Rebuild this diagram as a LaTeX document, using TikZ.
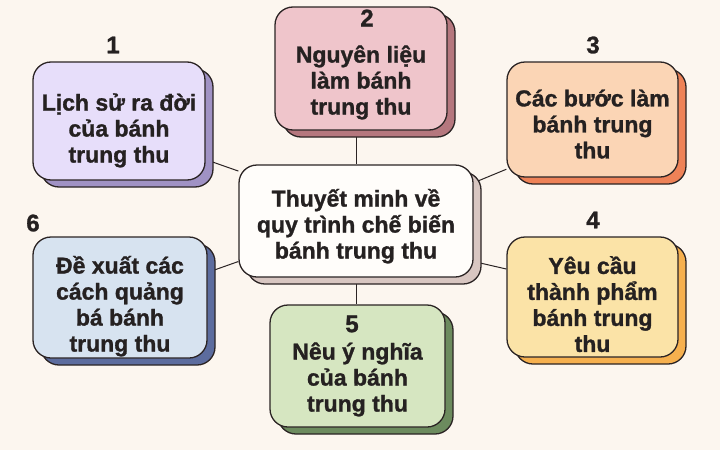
\documentclass[tikz,border=0pt]{standalone}
\usepackage{fontspec}
\setmainfont[BoldFeatures={FakeBold=1.2}]{Liberation Sans}
\usetikzlibrary{shadows,backgrounds}
\definecolor{cream}{HTML}{FCF6EF}
\definecolor{edge}{HTML}{2B2424}
\definecolor{ink}{HTML}{252121}
\definecolor{lilac}{HTML}{E7DEFA}
\definecolor{lilacdark}{HTML}{A092C4}
\definecolor{rose}{HTML}{EFC5CB}
\definecolor{rosedark}{HTML}{B5777E}
\definecolor{peach}{HTML}{FBD5B5}
\definecolor{peachdark}{HTML}{EE8257}
\definecolor{butter}{HTML}{FBE3A7}
\definecolor{butterdark}{HTML}{F6B04E}
\definecolor{sage}{HTML}{D6E6C1}
\definecolor{sagedark}{HTML}{6C8B5E}
\definecolor{sky}{HTML}{D7E3F0}
\definecolor{skydark}{HTML}{5C6C9E}
\definecolor{paper}{HTML}{FFFDFA}
\definecolor{paperdark}{HTML}{D8C6C1}
\newcommand{\lift}[1]{\rule{0pt}{#1pt}}
\begin{document}
\begin{tikzpicture}[x=1pt,y=-1pt,
  box/.style 2 args={draw=edge,line width=1.3pt,rounded corners=18pt,fill=#1,
    copy shadow={fill=#2,draw=edge,line width=1.3pt,shadow xshift=8pt,shadow yshift=-7pt},
    text=ink,font=\fontsize{23}{26}\selectfont\bfseries,align=center,inner sep=0pt},
  num/.style={text=ink,font=\fontsize{24}{28}\selectfont\bfseries,inner sep=0pt},
  link/.style={draw=edge,line width=1pt}]
\useasboundingbox (0,0) rectangle (720,450);
\node [box={paper}{paperdark},minimum width=234pt,minimum height=112pt] (c) at (356,221) {\lift{28}Thuyết minh về\\quy trình chế biến\\bánh trung thu};
\node [box={lilac}{lilacdark},minimum width=172pt,minimum height=118pt] (b1) at (119,121) {\lift{36}Lịch sử ra đời\\của bánh\\trung thu};
\node [box={rose}{rosedark},minimum width=172pt,minimum height=123pt] (b2) at (361,68.5) {\lift{45}Nguyên liệu\\làm bánh\\trung thu};
\node [box={peach}{peachdark},minimum width=171pt,minimum height=115pt] (b3) at (592.5,119.5) {\lift{26}Các bước làm\\bánh trung\\thu};
\node [box={butter}{butterdark},minimum width=171pt,minimum height=120pt] (b4) at (592.5,297) {\lift{32}Yêu cầu\\thành phẩm\\bánh trung\\thu};
\node [box={sage}{sagedark},minimum width=175pt,minimum height=122pt] (b5) at (357.5,366) {\lift{44}Nêu ý nghĩa\\của bánh\\trung thu};
\node [box={sky}{skydark},minimum width=174pt,minimum height=121pt] (b6) at (120,297.5) {\lift{35}Đề xuất các\\cách quảng\\bá bánh\\trung thu};
\node [num] (n1) at (113,45) {1};
\node [num] (n2) at (367,18) {2};
\node [num] (n3) at (593,45) {3};
\node [num] (n4) at (593,220) {4};
\node [num] (n5) at (352,324) {5};
\node [num] (n6) at (33,223) {6};
\begin{scope}[on background layer]
\fill [cream] (0,0) rectangle (720,450);
\draw [link] (b1.-24) -- (c.157);
\draw [link] (b2.south -| c.north) -- (c.north);
\draw [link] (c.18) -- (b3.210);
\draw [link] (c.-19) -- (b4.162);
\draw [link] (c.south) -- (c.south |- b5.north);
\draw [link] (c.199) -- (b6.16);
\end{scope}
\end{tikzpicture}
\end{document}
